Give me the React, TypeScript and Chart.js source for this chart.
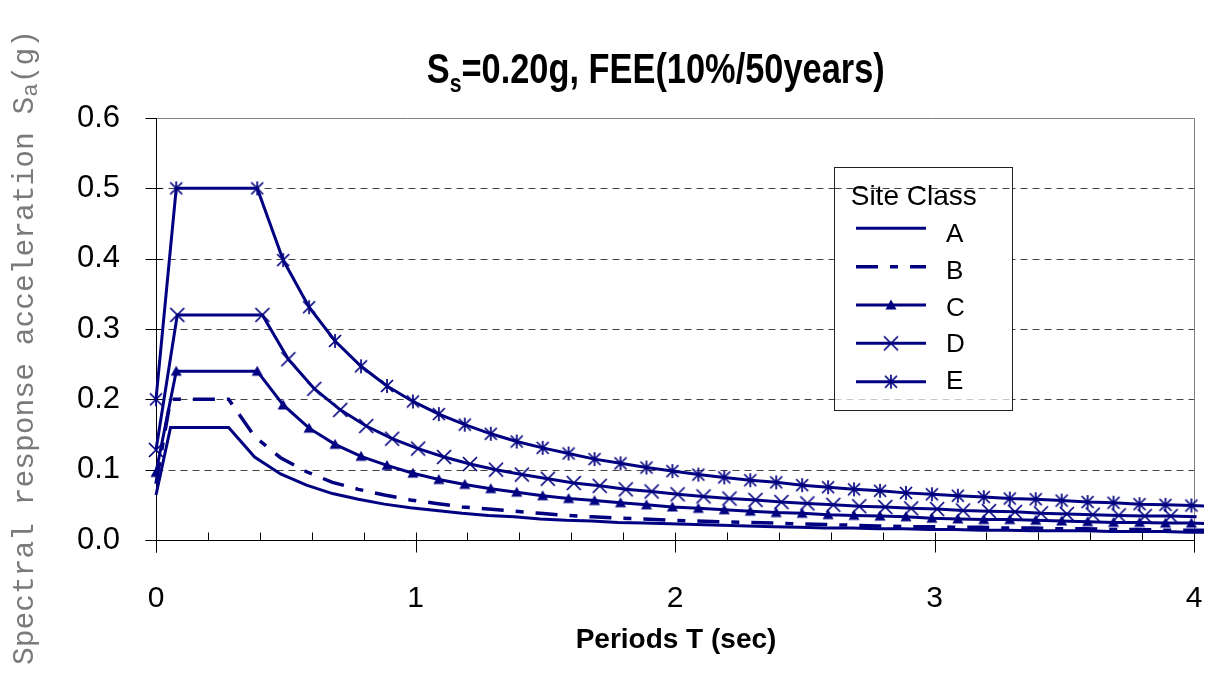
import React, { useEffect, useRef } from "react";
import { Chart, registerables } from "chart.js";

Chart.register(...registerables);

const NAVY = "#000080";

const siteClasses = ["A", "B", "C", "D", "E"];

// Periods T (sec) for classes A and B
const periodsAB = [
  0, 0.056, 0.28, 0.38, 0.48, 0.58, 0.68, 0.78, 0.88, 0.98, 1.08, 1.18, 1.28, 1.38,
  1.48, 1.58, 1.68, 1.78, 1.88, 1.98, 2.08, 2.18, 2.28, 2.38, 2.48, 2.58, 2.68, 2.78,
  2.88, 2.98, 3.08, 3.18, 3.28, 3.38, 3.48, 3.58, 3.68, 3.78, 3.88, 3.98, 4.08,
];
// Periods T (sec) for classes C and E
const periodsCE = [
  0, 0.078, 0.39, 0.49, 0.59, 0.69, 0.79, 0.89, 0.99, 1.09, 1.19, 1.29, 1.39, 1.49,
  1.59, 1.69, 1.79, 1.89, 1.99, 2.09, 2.19, 2.29, 2.39, 2.49, 2.59, 2.69, 2.79, 2.89,
  2.99, 3.09, 3.19, 3.29, 3.39, 3.49, 3.59, 3.69, 3.79, 3.89, 3.99, 4.09,
];
// Periods T (sec) for class D
const periodsD = [
  0, 0.082, 0.41, 0.51, 0.61, 0.71, 0.81, 0.91, 1.01, 1.11, 1.21, 1.31, 1.41, 1.51,
  1.61, 1.71, 1.81, 1.91, 2.01, 2.11, 2.21, 2.31, 2.41, 2.51, 2.61, 2.71, 2.81, 2.91,
  3.01, 3.11, 3.21, 3.31, 3.41, 3.51, 3.61, 3.71, 3.81, 3.91, 4.01,
];

const saA = [
  0.064, 0.16, 0.16, 0.118, 0.094, 0.078, 0.066, 0.058, 0.051, 0.046, 0.042, 0.038,
  0.035, 0.033, 0.03, 0.028, 0.027, 0.025, 0.024, 0.023, 0.022, 0.021, 0.02, 0.019,
  0.018, 0.017, 0.017, 0.016, 0.016, 0.015, 0.015, 0.014, 0.014, 0.013, 0.013, 0.013,
  0.012, 0.012, 0.012, 0.011, 0.011,
];
const saB = [
  0.08, 0.2, 0.2, 0.147, 0.117, 0.097, 0.082, 0.072, 0.064, 0.057, 0.052, 0.047,
  0.044, 0.041, 0.038, 0.035, 0.033, 0.031, 0.03, 0.028, 0.027, 0.026, 0.025, 0.024,
  0.023, 0.022, 0.021, 0.02, 0.019, 0.019, 0.018, 0.018, 0.017, 0.017, 0.016, 0.016,
  0.015, 0.015, 0.014, 0.014, 0.014,
];
const saC = [
  0.096, 0.24, 0.24, 0.192, 0.159, 0.136, 0.119, 0.106, 0.095, 0.086, 0.079, 0.073,
  0.068, 0.063, 0.059, 0.056, 0.053, 0.05, 0.047, 0.045, 0.043, 0.041, 0.039, 0.038,
  0.036, 0.035, 0.034, 0.033, 0.031, 0.03, 0.029, 0.029, 0.028, 0.027, 0.026, 0.025,
  0.025, 0.024, 0.024, 0.023,
];
const saD = [
  0.128, 0.32, 0.32, 0.257, 0.215, 0.185, 0.162, 0.144, 0.13, 0.118, 0.108, 0.1,
  0.093, 0.087, 0.081, 0.077, 0.072, 0.069, 0.065, 0.062, 0.059, 0.057, 0.054, 0.052,
  0.05, 0.048, 0.047, 0.045, 0.044, 0.042, 0.041, 0.04, 0.038, 0.037, 0.036, 0.035,
  0.034, 0.034, 0.033,
];
const saE = [
  0.2, 0.5, 0.5, 0.398, 0.331, 0.283, 0.247, 0.219, 0.197, 0.179, 0.164, 0.151,
  0.14, 0.131, 0.123, 0.115, 0.109, 0.103, 0.098, 0.093, 0.089, 0.085, 0.082, 0.078,
  0.075, 0.072, 0.07, 0.067, 0.065, 0.063, 0.061, 0.059, 0.058, 0.056, 0.054, 0.053,
  0.051, 0.05, 0.049, 0.048,
];

const xTicks = [0, 1, 2, 3, 4];
const xMinorTicks = [0.2, 0.4, 0.6, 0.8, 1.2, 1.4, 1.6, 1.8, 2.2, 2.4, 2.6, 2.8, 3.2, 3.4, 3.6, 3.8];
const yTicks = [0, 0.1, 0.2, 0.3, 0.4, 0.5, 0.6];
const yGridDashed = [0.1, 0.2, 0.3, 0.4, 0.5];

const FONT = '"Liberation Sans", Arial, Helvetica, sans-serif';
const MONO = '"Liberation Mono", "Courier New", monospace';

function makeMarker(kind: string): HTMLCanvasElement {
  const c = document.createElement("canvas");
  c.width = 20;
  c.height = 20;
  const g = c.getContext("2d")!;
  g.strokeStyle = NAVY;
  g.fillStyle = NAVY;
  g.lineWidth = 1.7;
  g.beginPath();
  if (kind === "tri") {
    g.moveTo(10, 4.5);
    g.lineTo(15.5, 14.5);
    g.lineTo(4.5, 14.5);
    g.closePath();
    g.fill();
  } else if (kind === "x") {
    g.moveTo(3, 3);
    g.lineTo(17, 17);
    g.moveTo(17, 3);
    g.lineTo(3, 17);
    g.stroke();
  } else {
    g.moveTo(4, 4);
    g.lineTo(16, 16);
    g.moveTo(16, 4);
    g.lineTo(4, 16);
    g.moveTo(10, 3);
    g.lineTo(10, 17);
    g.stroke();
  }
  return c;
}

const hline = (ctx: CanvasRenderingContext2D, x1: number, x2: number, y: number) => {
  ctx.beginPath();
  ctx.moveTo(x1, y);
  ctx.lineTo(x2, y);
  ctx.stroke();
};
const vline = (ctx: CanvasRenderingContext2D, x: number, y1: number, y2: number) => {
  ctx.beginPath();
  ctx.moveTo(x, y1);
  ctx.lineTo(x, y2);
  ctx.stroke();
};

const decor = {
  id: "decor",
  beforeDatasetsDraw(chart: any) {
    const { ctx, chartArea: a } = chart;
    const x = chart.scales.x;
    const y = chart.scales.y;
    const L = Math.round(a.left) + 0.5;
    const R = Math.round(a.right) + 0.5;
    const T = Math.round(a.top) + 0.5;
    const B = Math.round(a.bottom) + 0.5;
    ctx.save();
    ctx.lineWidth = 1;
    // dashed gridlines
    ctx.strokeStyle = "#444";
    ctx.setLineDash([7, 5]);
    for (const v of yGridDashed) {
      const py = Math.round(y.getPixelForValue(v)) + 0.5;
      hline(ctx, L, R, py);
    }
    ctx.setLineDash([]);
    // plot frame (top / right) in grey
    ctx.strokeStyle = "#808080";
    hline(ctx, L - 11, R, T);
    vline(ctx, R, T, B + 12);
    // axes
    ctx.strokeStyle = "#000";
    vline(ctx, L, T, B + 12);
    hline(ctx, L - 11, R, B);
    for (const v of yTicks) {
      const py = Math.round(y.getPixelForValue(v)) + 0.5;
      hline(ctx, L - 11, v === 0.6 ? L : L + 6, py);
    }
    for (const v of xTicks) {
      const px = Math.round(x.getPixelForValue(v)) + 0.5;
      vline(ctx, px, v === 0 ? B : B - 8, B + 12);
    }
    for (const v of xMinorTicks) {
      const px = Math.round(x.getPixelForValue(v)) + 0.5;
      vline(ctx, px, B - 8, B);
    }
    ctx.restore();
  },
  afterDatasetsDraw(chart: any) {
    const { ctx } = chart;
    const y = chart.scales.y;
    ctx.save();

    // ---- Title with subscript ----
    const tL = 426.7;
    const tBase = 83.3;
    const tWidth = 458;
    const big = `bold 42px ${FONT}`;
    const small = `bold 26px ${FONT}`;
    const rest = "=0.20g, FEE(10%/50years)";
    ctx.font = big;
    const wS = ctx.measureText("S").width;
    const wRest = ctx.measureText(rest).width;
    ctx.font = small;
    const wSub = ctx.measureText("s").width;
    const sx = tWidth / (wS + wSub + wRest);
    ctx.translate(tL, tBase);
    ctx.scale(sx, 1);
    ctx.fillStyle = "#000";
    ctx.textBaseline = "alphabetic";
    ctx.textAlign = "left";
    ctx.font = big;
    ctx.fillText("S", 0, 0);
    ctx.font = small;
    ctx.fillText("s", wS, 8.5);
    ctx.font = big;
    ctx.fillText(rest, wS + wSub, 0);
    ctx.setTransform(1, 0, 0, 1, 0, 0);

    // ---- Y axis title (rotated, monospace grey) ----
    const yMain = "Spectral response acceleration S";
    const monoBig = `29px ${MONO}`;
    const monoSmall = `22px ${MONO}`;
    ctx.font = monoBig;
    const wm = ctx.measureText(yMain).width;
    const wg = ctx.measureText("(g)").width;
    ctx.font = monoSmall;
    const wa = ctx.measureText("a").width;
    const sy = 635 / (wm + wa + wg);
    ctx.translate(33, 665);
    ctx.rotate(-Math.PI / 2);
    ctx.scale(sy, 1);
    ctx.fillStyle = "#7a7a7a";
    ctx.font = monoBig;
    ctx.fillText(yMain, 0, 0);
    ctx.font = monoSmall;
    ctx.fillText("a", wm, 4);
    ctx.font = monoBig;
    ctx.fillText("(g)", wm + wa, 0);
    ctx.setTransform(1, 0, 0, 1, 0, 0);

    // ---- X axis title ----
    ctx.fillStyle = "#000";
    ctx.font = `bold 28px ${FONT}`;
    ctx.textAlign = "center";
    ctx.fillText("Periods T (sec)", 676, 648);

    // ---- Legend ----
    const bx = 834.5, by = 167.5, bw = 178, bh = 243;
    ctx.fillStyle = "#fff";
    ctx.fillRect(bx, by, bw, bh);
    ctx.lineWidth = 1;
    // grid line traces through the legend like in the source picture
    ctx.setLineDash([7, 5]);
    ctx.strokeStyle = "#444";
    hline(ctx, bx, bx + bw, Math.round(y.getPixelForValue(0.5)) + 0.5);
    ctx.strokeStyle = "#c8c8c8";
    hline(ctx, bx, bx + bw, Math.round(y.getPixelForValue(0.2)) + 0.5);
    ctx.setLineDash([]);
    ctx.strokeStyle = "#222";
    ctx.strokeRect(bx, by, bw, bh);

    ctx.fillStyle = "#000";
    ctx.textAlign = "left";
    ctx.textBaseline = "alphabetic";
    ctx.font = `28px ${FONT}`;
    ctx.fillText("Site Class", 850.7, 205);

    ctx.font = `26px ${FONT}`;
    chart.data.datasets.forEach((ds: any, i: number) => {
      const ly = 228.3 + i * 38.35;
      ctx.save();
      ctx.strokeStyle = ds.borderColor;
      ctx.lineWidth = ds.borderWidth;
      ctx.setLineDash(ds.borderDash || []);
      hline(ctx, 856, 926, ly);
      ctx.restore();
      if (ds.pointStyle && typeof ds.pointStyle === "object") {
        const m = ds.pointStyle as HTMLCanvasElement;
        ctx.drawImage(m, 891 - m.width / 2, ly - m.height / 2);
      }
      ctx.fillStyle = "#000";
      ctx.fillText(ds.label, 946, 241.7 + i * 36.9);
    });

    ctx.restore();
  },
};

export default function App() {
  const ref = useRef<HTMLCanvasElement>(null);

  useEffect(() => {
    const markers = { tri: makeMarker("tri"), x: makeMarker("x"), star: makeMarker("star") };
    const mk = (px: number[], py: number[]) => px.map((t, i) => ({ x: t, y: py[i] }));
    const radiusFn = (c: any) => (c.raw && c.raw.x > 4 ? 0 : 8);
    const common = {
      borderColor: NAVY,
      backgroundColor: NAVY,
      borderWidth: 3,
      tension: 0,
      clip: { left: 12, top: 12, right: 10, bottom: 12 },
    };
    Chart.defaults.font.family = FONT;
    const chart = new Chart(ref.current!, {
      type: "line",
      data: {
        datasets: [
          { ...common, label: siteClasses[0], data: mk(periodsAB, saA), pointRadius: 0 },
          {
            ...common,
            label: siteClasses[1],
            data: mk(periodsAB, saB),
            pointRadius: 0,
            borderWidth: 3.5,
            borderDash: [22, 12, 8, 12],
          },
          { ...common, label: siteClasses[2], data: mk(periodsCE, saC), pointStyle: markers.tri, pointRadius: radiusFn },
          { ...common, label: siteClasses[3], data: mk(periodsD, saD), pointStyle: markers.x, pointRadius: radiusFn },
          { ...common, label: siteClasses[4], data: mk(periodsCE, saE), pointStyle: markers.star, pointRadius: radiusFn },
        ] as any,
      },
      options: {
        animation: false,
        responsive: false,
        devicePixelRatio: 1,
        events: [],
        layout: { padding: { left: 0, right: 17, top: 118, bottom: 0 } },
        plugins: {
          legend: { display: false },
          title: { display: false },
          tooltip: { enabled: false },
        },
        scales: {
          x: {
            type: "linear",
            min: 0,
            max: 4,
            afterFit: (s: any) => {
              s.height = 158;
              s.paddingLeft = 0;
              s.paddingRight = 0;
            },
            afterBuildTicks: (s: any) => {
              s.ticks = xTicks.map((v) => ({ value: v }));
            },
            grid: { display: false },
            border: { display: false },
            ticks: {
              padding: 33,
              color: "#000",
              maxRotation: 0,
              autoSkip: false,
              font: { size: 30, family: FONT },
              callback: (v: any) => String(v),
            },
          },
          y: {
            type: "linear",
            min: 0,
            max: 0.6,
            afterFit: (s: any) => {
              s.width = 156;
              s.paddingTop = 0;
              s.paddingBottom = 0;
            },
            afterBuildTicks: (s: any) => {
              s.ticks = yTicks.map((v) => ({ value: v }));
            },
            grid: { display: false },
            border: { display: false },
            ticks: {
              padding: 28,
              color: "#000",
              autoSkip: false,
              font: { size: 31, family: FONT },
              callback: (v: any) => Number(v).toFixed(1),
            },
          },
        },
      } as any,
      plugins: [decor],
    });
    return () => chart.destroy();
  }, []);

  return (
    <div style={{ position: "absolute", left: 0, top: 0, width: 1211, height: 698, background: "#fff" }}>
      <canvas ref={ref} width={1211} height={698} style={{ display: "block" }} />
    </div>
  );
}
